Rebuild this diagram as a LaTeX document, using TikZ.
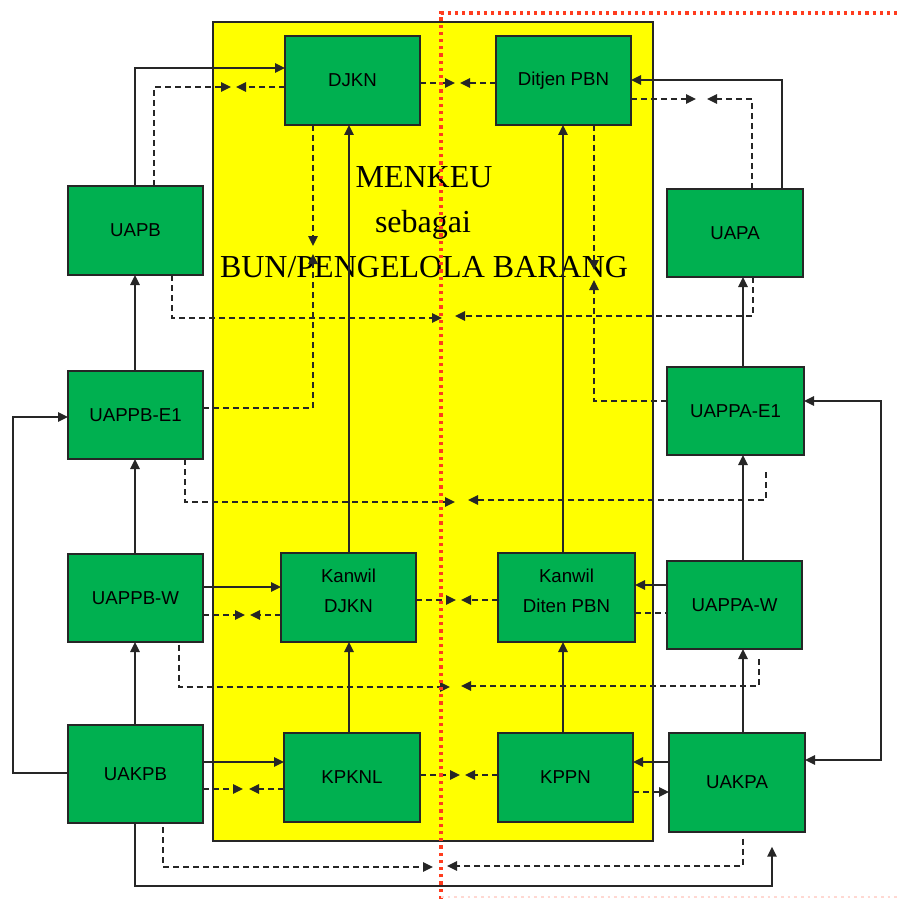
\documentclass[tikz,border=0pt]{standalone}
\usepackage{fontspec}
\usetikzlibrary{arrows.meta}
\newfontfamily\boxfont{Liberation Sans}
\newfontfamily\titlefont{Liberation Serif}
\definecolor{gfill}{RGB}{0,176,80}
\definecolor{yfill}{RGB}{255,255,0}
\definecolor{rdot}{RGB}{255,60,30}
\tikzset{
 gbox/.style={draw=black!85, line width=1.6pt, fill=gfill, inner sep=0pt, outer sep=0pt, font=\boxfont\fontsize{14}{22}\selectfont, align=center, text=black},
 boxtext/.style={font=\boxfont\fontsize{14}{22}\selectfont, align=center, text=black},
 ttext/.style={font=\titlefont\fontsize{24}{28}\selectfont, text=black, inner sep=0pt, anchor=base},
 sarr/.style={draw=black!85, line width=1.4pt, -{Triangle[length=7.5pt,width=7pt]}},
 darr/.style={draw=black!85, line width=1.2pt, dash pattern=on 4.5pt off 3pt, -{Triangle[length=7.5pt,width=7pt]}},
 dline/.style={draw=black!85, line width=1.2pt, dash pattern=on 4.5pt off 3pt},
}
\newcommand\gbox[6]{%
 \pgfmathsetmacro\gbW{(#4-#2)*0.75}\pgfmathsetmacro\gbH{(#5-#3)*0.75}%
 \node[gbox,minimum width=\gbW pt,minimum height=\gbH pt] (#1) at ({(#2+#4)/2},{(#3+#5)/2}) {#6};}
\begin{document}
\begin{tikzpicture}[x=0.75pt,y=-0.75pt]
\useasboundingbox (0,0) rectangle (901,899);
% yellow area
\draw[fill=yfill, draw=black!85, line width=1.6pt] (213,22) rectangle (653,841);
\node[ttext] (t1) at (424,188) {MENKEU};
\node[ttext] (t2) at (423,233) {sebagai};
\node[ttext] (t3) at (424,277) {BUN/PENGELOLA BARANG};
% boxes
\gbox{djkn}{285}{36}{420}{125}{DJKN}
\gbox{ditjen}{496}{36}{631}{125}{Ditjen PBN}
\gbox{uapb}{68}{186}{203}{275}{UAPB}
\gbox{uapa}{667}{189}{803}{277}{UAPA}
\gbox{uappbe}{68}{371}{203}{459}{UAPPB-E1}
\gbox{uappae}{667}{367}{804}{455}{UAPPA-E1}
\gbox{uappbw}{68}{554}{203}{642}{UAPPB-W}
\gbox{kdjkn}{281}{553}{416}{642}{}
\gbox{kditjen}{498}{553}{635}{642}{}
\gbox{uappaw}{667}{561}{802}{649}{UAPPA-W}
\gbox{uakpb}{68}{725}{203}{823}{UAKPB}
\gbox{kpknl}{284}{733}{420}{822}{KPKNL}
\gbox{kppn}{498}{733}{633}{822}{KPPN}
\gbox{uakpa}{669}{733}{805}{832}{UAKPA}
\node[boxtext, yshift=5pt] (kdjknt) at (kdjkn.center) {Kanwil\\DJKN};
\node[boxtext, yshift=5pt] (kditjent) at (kditjen.center) {Kanwil\\Diten PBN};
% tip coordinates
\coordinate (p1r) at (231,87);  \coordinate (p1l) at (236,87);
\coordinate (p2r) at (455,83);  \coordinate (p2l) at (460,83);
\coordinate (p3r) at (696,99);  \coordinate (p3l) at (707,99);
\coordinate (p4d) at (313,246); \coordinate (p4u) at (313,254);
\coordinate (p5d) at (594,270); \coordinate (p5u) at (594,280);
\coordinate (p6r) at (442,318); \coordinate (p6l) at (455,316);
\coordinate (p7r) at (455,502); \coordinate (p7l) at (468,500);
\coordinate (p8r) at (245,615); \coordinate (p8l) at (250,615);
\coordinate (p9r) at (456,600); \coordinate (p9l) at (461,600);
\coordinate (p10r) at (450,687); \coordinate (p10l) at (461,686);
\coordinate (p11r) at (243,789); \coordinate (p11l) at (249,789);
\coordinate (p12r) at (460,775); \coordinate (p12l) at (465,775);
\coordinate (p13r) at (433,867); \coordinate (p13l) at (447,866);
% dashed connectors
\draw[darr] (uapb.north -| 154,0) |- (p1r);
\draw[darr] (djkn.west |- p1l) -- (p1l);
\draw[darr] (djkn.east |- p2r) -- (p2r);
\draw[darr] (ditjen.west |- p2l) -- (p2l);
\draw[darr] (ditjen.east |- p3r) -- (p3r);
\draw[darr] (uapa.north -| 752,0) |- (p3l);
\draw[darr] (djkn.south -| p4d) -- (p4d);
\draw[darr] (uappbe.east |- 0,408) -| (p4u);
\draw[darr] (ditjen.south -| p5d) -- (p5d);
\draw[darr] (uappae.west |- 0,401) -| (p5u);
\draw[darr] (uapb.south -| 172,0) |- (p6r);
\draw[darr] (uapa.south -| 753,0) |- (p6l);
\draw[darr] (uappbe.south -| 185,0) |- (p7r);
\draw[darr, shorten <=13pt] (uappae.south -| 766,0) |- (p7l);
\draw[darr] (uappbw.east |- p8r) -- (p8r);
\draw[darr] (kdjkn.west |- p8l) -- (p8l);
\draw[darr] (kdjkn.east |- p9r) -- (p9r);
\draw[darr] (kditjen.west |- p9l) -- (p9l);
\draw[darr, shorten <=2pt] (uappbw.south -| 179,0) |- (p10r);
\draw[darr, shorten <=7.5pt] (uappaw.south -| 759,0) |- (p10l);
\draw[darr] (uakpb.east |- p11r) -- (p11r);
\draw[darr] (kpknl.west |- p11l) -- (p11l);
\draw[darr] (kpknl.east |- p12r) -- (p12r);
\draw[darr] (kppn.west |- p12l) -- (p12l);
\draw[darr, shorten <=3pt] (uakpb.south -| 163,0) |- (p13r);
\draw[darr, shorten <=5pt] (uakpa.south -| 743,0) |- (p13l);
\draw[dline] (kditjen.east |- 0,613) -- (uappaw.west |- 0,613);
\draw[darr] (kppn.east |- 0,792) -- (uakpa.west |- 0,792);
% solid connectors
\draw[sarr] (uapb.north -| 135,0) |- (djkn.west |- 0,68);
\draw[sarr] (uapa.north -| 782,0) |- (ditjen.east |- 0,80);
\draw[sarr] (uappbe.north -| 135,0) -- (uapb.south -| 135,0);
\draw[sarr] (uappbw.north -| 135,0) -- (uappbe.south -| 135,0);
\draw[sarr] (uakpb.north -| 135,0) -- (uappbw.south -| 135,0);
\draw[sarr] (uakpb.west |- 0,773) -| (13,417) -- (uappbe.west |- 0,417);
\draw[sarr, shorten >=11pt] (uakpb.south -| 135,0) |- (772,886) -- (uakpa.south -| 772,0);
\draw[sarr, {Triangle[length=7.5pt,width=7pt]}-{Triangle[length=7.5pt,width=7pt]}] (uappae.east |- 0,401) -| (881,760) -- (uakpa.east |- 0,760);
\draw[sarr] (uakpa.north -| 743,0) -- (uappaw.south -| 743,0);
\draw[sarr] (uappaw.north -| 743,0) -- (uappae.south -| 743,0);
\draw[sarr] (uappae.north -| 743,0) -- (uapa.south -| 743,0);
\draw[sarr] (kpknl.north -| 349,0) -- (kdjkn.south -| 349,0);
\draw[sarr] (kdjkn.north -| 349,0) -- (djkn.south -| 349,0);
\draw[sarr] (kppn.north -| 563,0) -- (kditjen.south -| 563,0);
\draw[sarr] (kditjen.north -| 563,0) -- (ditjen.south -| 563,0);
\draw[sarr] (uappbw.east |- 0,587) -- (kdjkn.west |- 0,587);
\draw[sarr] (uakpb.east |- 0,762) -- (kpknl.west |- 0,762);
\draw[sarr] (uappaw.west |- 0,585) -- (kditjen.east |- 0,585);
\draw[sarr] (uakpa.west |- 0,762) -- (kppn.east |- 0,762);
% red dotted lines
\draw[rdot, line width=2.4pt, dash pattern=on 2.4pt off 3pt] (441,899) -- (441,13) -- (901,13);
\draw[rdot!20, line width=1pt, dash pattern=on 2pt off 3pt] (441,897) -- (901,897);
\end{tikzpicture}
\end{document}
